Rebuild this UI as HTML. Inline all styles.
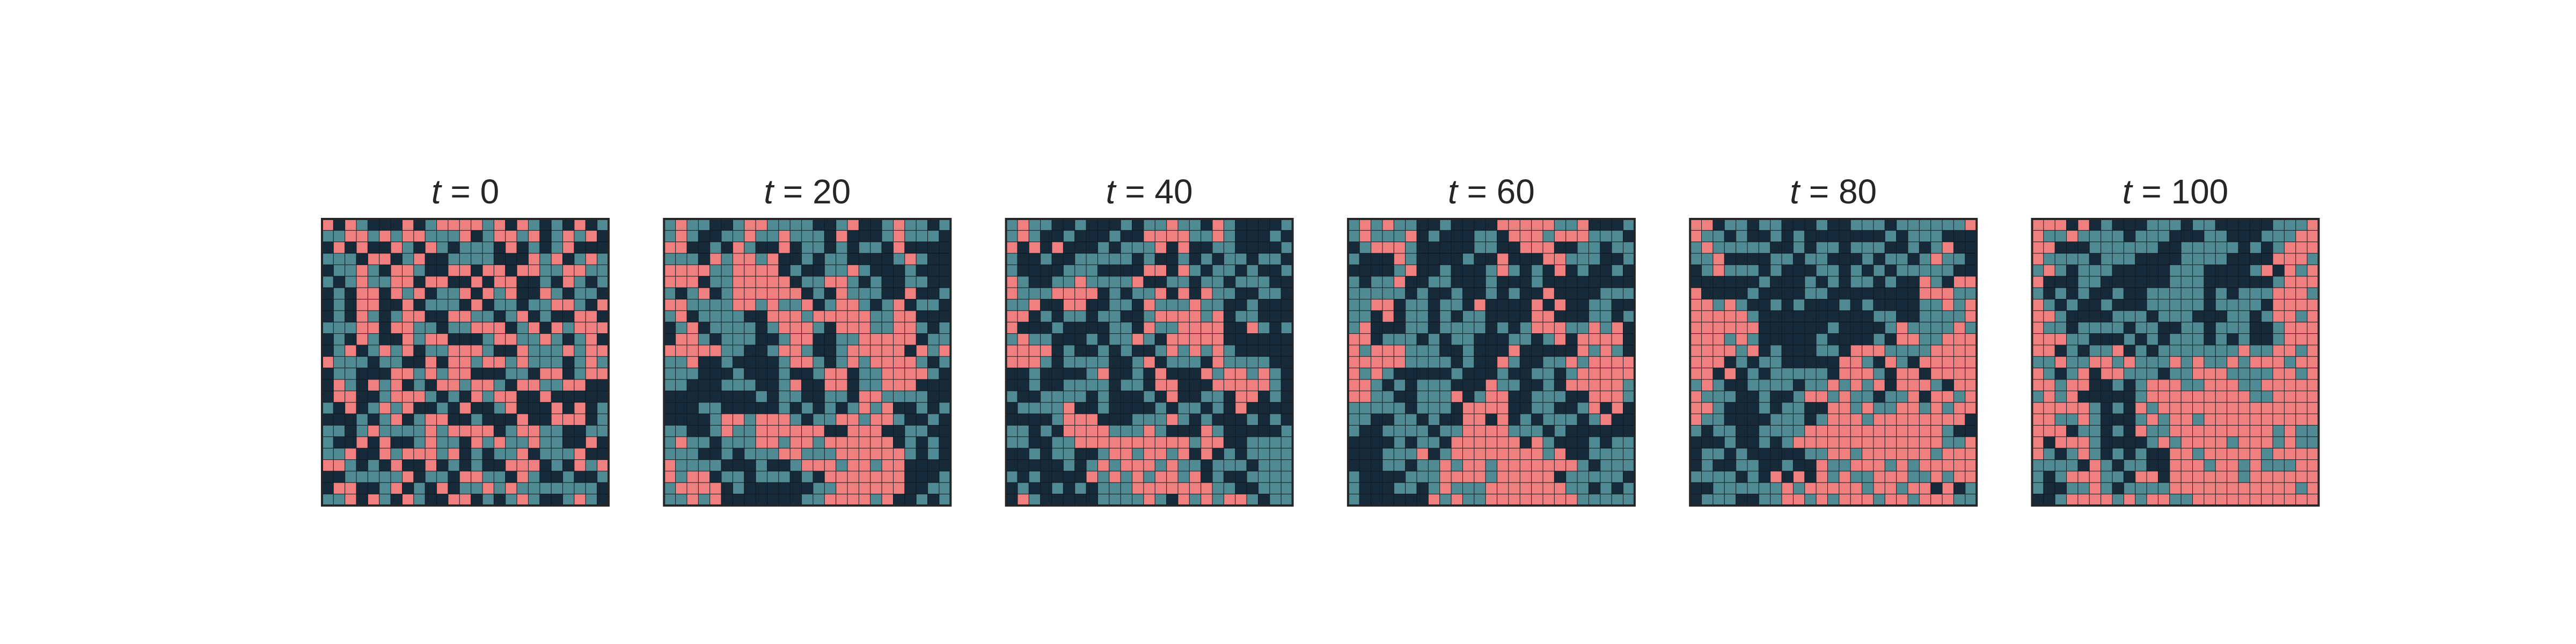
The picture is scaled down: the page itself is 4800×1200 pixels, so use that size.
<!DOCTYPE html>
<html><head><meta charset="utf-8"><style>
html,body{margin:0;padding:0;background:#fff;}
svg{display:block;}
</style></head><body>
<svg id="chart" width="4800" height="1200" viewBox="0 0 4800 1200" xmlns="http://www.w3.org/2000/svg">
<rect width="4800" height="1200" fill="#ffffff"/>
</svg>
<script>
const timeLabels = ["0","20","40","60","80","100"];
const colorCodes = {D:"#172a3a", T:"#508a92", P:"#f08080"};
const grid0 = [
"PDPTDDDPDTPPPPTPDPTDTDPDT","TTPPTPTPPTTTPDTPPTPDTPTPD","DPDPDDPTDPTDTTTDPDTDTPDDD","TTTDPPDTPDDTTTTDDDPTPDTPT","DTTPTDPPTDDPPDPPDPPTTPPTT",
"TDTPTTPPDPPDDPDPPDDTDPTDT","DTDPPDPTPDTTPDPTPDDPTDTTD","DTDPPDDPDTTTDPDTTDTTPPTDP","DTDPTDTPPDDPPTTDTPDTDDPPD","TTTPPDPPTTDTTPPPDTPDPTPPP",
"DTDPTDDPTPPDDDTPPTTPTDTPD","DTPDTPTPDTTPPPTDDPTTTPTPP","PTTTDTTDDPDPPTPPTPTTTDTPT","DTTDDDPPTPTPPDDDTTDPPDTPP","DPTDPTPDTDPPTPPTDPPTTPPDD",
"DPPDDTPPPTDTDPTPPDDPDDDDD","TDPDTPTPDDTDPDDTPDDDPDPDT","DDDTDTPDTPPDDTDDDPDDPPPDT","TTDTPTTTTPTPPPPDTPPTTDDTT","TDDPDPDDTPTTDPTPTTPTTDDPD",
"TTPDDPTPPPTPDTDTTPDTTTPDD","PPTDTDPDDPDTDTDDPPPDTDPTP","DDTTTTTPDTTDPPTTDPTDDTDDT","DPPDDTPDTDPDTTPTPTTTTTTTD","TTPDPTDPTDDPPDTDTPTDDTPTD"];
const grid20 = [
"TPTTDDTPPTTTTDDTPDDTPTTDT","TPTDDTTPTTPTTTDPDDDTPTTTD","PPDDTDPTDDPDTTDTDTTDPDDDD","TTTDPTPPTPDDTDTTDDDDTPTDD","PPPPTTPPPPDTDDTTPTDDDTDDD",
"PPPDTTPPPPPDTTPPTDTDDTTDD","TDTPDTPPPPPPDTDPTTTDDPDDT","PPTTTTPPTPTTPDTPPTDTPDTTD","TPDTTTTDDPPPTPPPPPTTPPDDD","DTPDTTTTDTPPPTDPPPTTPPTDT",
"DPPTDTTTDDTPPDDTTPPPPPDTT","PPPPPTTDDTPPTDDTPPPPPDPTP","TTPDDTDDDDTPPTDTPTPPPPTDT","TTTDDDTDDDTDDTPPDTTPPPPTD","TTDDDTTTDDTPDDPPDTTPPPDDD",
"DDDDDDDDTDTTDDTTDPPTTTTDD","DDDTTDDDDDTDTDTDTPTPDDTDT","DDDDTPPTPPPTDTTPPTPPTDDTD","TTDDTPTTPPPPPPDDPPPDDTTDD","TPTTDTTTPPTPPTPPPPPPDTDTD",
"TTTDDTDTTTPPTTTPPPPPPTDTD","PTTTTDDDTDDTPPPTPPTPPDDDD","PTPPDTTDTTTDTDPPPPPPPDDDT","TPPPPDTDDDDDDTTPPPPPPDDTT","TTPTPDDDDDDDTTPPPPTPDDTDT"];
const grid40 = [
"TPTTDDTDDDTDTTPTTDPTDDDDT","TPTDDTDDDTDDPPPPTTPTDDDTD","PDPDPDDDTDTTTPDPDDTTDDDDT","TDDTDDTTTTTDTDDTDTDTTDTTD","TDDDDTTTDDDDPPDPTDTTDTDDT",
"PTDDTTPTTTTPDDTTDTTDTTTDD","PTTTPPPPDTDTTPDPDPTTDDTTD","TTPDDPPDDTTDPTTTPTTDDTDDD","PPDTDTTDTTDDTPPPPTPDTTDDD","PDDDTDDDDTTDPTTPPPPDDPTDT",
"TPTTDDDTDTTPTDPPPPPDDDDDD","PPPPDTDDTDTDDTPTPTPTDDDDD","PPPTDTTTTDDTPDTTTDPTTTTDD","DDTDDDDTPDDTDPDDDPTPPTPTD","DDTDDTTTTDTTDPPDDDPPPPPTD",
"TDDTTTTDTDDDTDPDDTTDPPDTD","DTTTTPDDTDDDDTDTTDTDPDDDD","DDDDTPPPDDDTTTPTDTDDDTDTD","TTDTDPPPPTTTPTDDDPTDDDDDT","TTDDTTPPPPPPPPPPTPPDDTTTT",
"DDTDTTDDTPPTPPTPDPDTDTTTT","DDDDDTDTPTPPPTPTTDTTTDTTT","TDTDDDDPTPTPTPPTPDTDDTTTT","DTDDTDTDTTTPPPPPPPTTDDTTT","DPTDDDDDTTTTPTDPTPTPPTDTT"];
const grid60 = [
"TPTPTTDDTDDDDPPPPPTTPDDDT","TPTTTPDTDDDTTDPPPTPPPTTTD","DTPPPTDDDDDTTDDPPPDDTTDTT","TDDDPTDDDDTDDPDDDPPTTTDDT","DDDDTPDDTDDDTPTDTDPDTDDTD",
"TDTTPDDTTDDDTDDDTDDDDDDDD","TTTTTDTDDTDDTDTDDPDDDDTTT","TTPPDTTDTTDPDDDDPDPDDTTDD","TTDPDTTDTDTTDDDDPPDDDTTDT","TPDDDTTDTTTTDTDTPPPTTPTPD",
"PPDTTTDTDTTDDDTTDTPDPPPPD","PTPPPTTTDDTDDDPDDDDDPTPTD","PPPPPTTTTDTDDPTDDTTPTPPPP","PTPTDDDDDTDDDTDDTTDTPPPPP","PPTDTDTTTDDDPTTDDTDPPPPPT",
"PPTTDDTTTPDTPPDDTTTDDPPPT","TTTTTDTTTDPPPPDDTTDDTPDPD","TTDDTTDTDDPPDPDTDTTTDTPDD","TDDTTTTDTTPPPPTTTDTDDDDDD","DDDDTDTTDPPPPPPDPTDDDTDTT",
"DDDTTTPDTPPPPPPPPTPDDTTTT","DDDTTDTTPTPPTPPPPPPPTDTTT","TDDDDTTTPPPPTPPPPPDTTTTTD","TDDDTTDTPTTTPPPPPPPTTDTDT","TDDDDDDPTPTTPPPPPPPPTTTTT"];
const grid80 = [
"PPDTTDTTDDDTDDTTTDTTTTTTP","PTTDTDDTDTDDDDDDDTDTTTDDD","TPTTTTTDDTDTTDTTTDDTDTPDD","TTPDDDDTTDTTDDDTDTTDTPTTD","DTPTTTDTDDDTTDTDTDTTTTTDD",
"DDDDDDTDDDTDTDTTDTDDPTDPP","PDDDDTDDDDTTDDDDDDDDPPPTT","PPTPTDDTDTDDDTDTDDDDTTPTP","PPPPPTDDDDDDDDDDTTDDTTTTP","PPPPPPDDDDDDTDDDDTPTTTTPT",
"PPPTPTDDDDDTDDDDTDPPTTPPP","PPPPTPDTDDDTTDPPPTTTTPPPP","PPPDTDTTDDDDDPPTDPTDPPPPP","PPDPDTDTTTTTDPPPTDPPDPPPP","TPTDDTTTTDTTPTPTPDPPPTDPP",
"PTTTDDTDDTPPTPTTDTTPDPPTP","PPTDDDTDTTDDPPTPTTPPTPTPP","PTTDDDDTTTDTPPPTPPPPPPPPD","TDTTDDTTTTPPPPPPPPPPPPTDD","DDDTDDTDTPPPPPPPPPPPPPTTP",
"DTTDTDDDDDTTPPTPPPPPPTPPP","DTDDTTDDTDDPTTPPPTPTPPPPP","TTTTDTDPDPDPTPTTPPPTTPTPP","DDTTTTTTPTPPPPPTPPTPPDPDT","DTTTDDTTPPTPTPPPTPPTPPPTT"];
const grid100 = [
"PPPDPDTDDDTTTDTTDDDDDTTTP","PTTPTTTTDTTTDDDTTDDDTTTPP","PPDDDTTTTTTDDTTTTTDTDTPPP","PTTTTDTTTDDDDTTTTDDDDPPPT","TPTDTTTDDDDDTTTDDDDTPDPTP",
"PDDDTTDDDDDDTTTDDDDDDTPPP","TDTDTDDTDDTTTTTDTDTTTPPPT","PTDTDDTDDDTTTTTDTTTTDPPPP","PPTDDDDTTTDTTTDDDTTDTPPTP","PTTDTTTTDTTDDTTDTTTDDTPPP",
"PPPTTDDDTDTDTTTDTDTDDTPPP","PPDTDTTPDTDTTTTTTTPTTPPTP","TTPTTPPTPTTTPTPTTPTPPPTPP","PTDTPDPPTTTDTTPPPTTTTPPTP","PPTPPDDTDTPPPTTPPPTTPPPPP",
"TPTPDDDDDTPPPPPPPPPTTPPPP","PPPPPTDTDPTPPPPPPPPPPPPPP","PPTTPTDDDTPTPPTPPPPPPPPPP","PPPDTTDTDPTTPPPPPPPPPTPTT","PDPPPTDDDDTPTPPPPTPPPTPTT",
"PTDTPTDTDTDDPPTPPPPPTPPPP","TTTTDPTDTTDDPPPTPPTPTTTPP","TDTPPPTTDPPDPPPPPPTPPPPPP","TDDTTPTDTTTTPPPPPPPPPPPTP","DDTPPPPTPTPPTTPPPPPPPPPPP"];
const grids = [grid0, grid20, grid40, grid60, grid80, grid100];

const NS = "http://www.w3.org/2000/svg";
const svg = document.getElementById("chart");
const panelLeft0 = 600, panelStep = 637.3, panelTop = 408, panelSize = 534;
const xScale = (panel, col, n) => panelLeft0 + panel * panelStep + col * panelSize / n;
const yScale = (row, n) => panelTop + row * panelSize / n;

grids.forEach((grid, p) => {
  const g = document.createElementNS(NS, "g");
  
  
  svg.appendChild(g);
  const n = grid.length;
  const cw = panelSize / n;
  grid.forEach((rowStr, r) => {
    for (let c = 0; c < rowStr.length; c++) {
      const rect = document.createElementNS(NS, "rect");
      
      
      rect.setAttribute("x", xScale(p, c, n));
      rect.setAttribute("y", yScale(r, n));
      rect.setAttribute("width", cw);
      rect.setAttribute("height", cw);
      rect.setAttribute("fill", colorCodes[rowStr[c]]);
      rect.setAttribute("stroke", "#101820");
      rect.setAttribute("stroke-opacity", "0.85");
      rect.setAttribute("stroke-width", "1");
      g.appendChild(rect);
    }
  });
  const frame = document.createElementNS(NS, "rect");
  
  
  frame.setAttribute("x", xScale(p, 0, n));
  frame.setAttribute("y", panelTop);
  frame.setAttribute("width", panelSize);
  frame.setAttribute("height", panelSize);
  frame.setAttribute("fill", "none");
  frame.setAttribute("stroke", "#262626");
  frame.setAttribute("stroke-width", "4");
  g.appendChild(frame);
  const title = document.createElementNS(NS, "text");
  
  
  title.setAttribute("x", xScale(p, 0, n) + panelSize / 2);
  title.setAttribute("y", 379);
  title.setAttribute("text-anchor", "middle");
  title.setAttribute("font-family", "'Liberation Sans', 'DejaVu Sans', sans-serif");
  title.setAttribute("font-size", "64");
  title.setAttribute("fill", "#262626");
  const ti = document.createElementNS(NS, "tspan");
  ti.setAttribute("font-style", "italic");
  ti.textContent = "t";
  title.appendChild(ti);
  title.appendChild(document.createTextNode(" = " + timeLabels[p]));
  g.appendChild(title);
});
</script>
</body></html>
